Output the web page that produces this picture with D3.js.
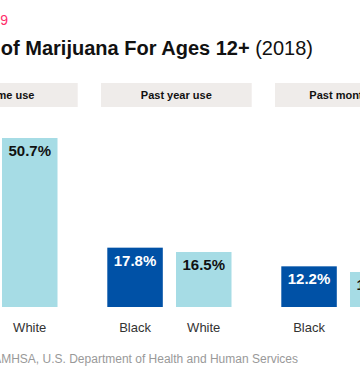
<!DOCTYPE html>
<html>
<head>
<meta charset="utf-8">
<script src="https://cdn.jsdelivr.net/npm/d3@7"></script>
<style>
  body { margin: 0; background: #fff; overflow: hidden; }
  svg { display: block; font-family: "Liberation Sans", Arial, sans-serif; }
</style>
</head>
<body>
<div id="chart"></div>
<script>
// data
var groups = ["Lifetime use", "Past year use", "Past month use"];
var races = ["Black", "White"];
var black = [39.9, 17.8, 12.2];
var white = [50.7, 16.5, 10.5];

var width = 360, height = 377;

var svg = d3.select("#chart").append("svg")
  .attr("width", width)
  .attr("height", height);

/* header text */
svg.append("text")
  .attr("x", 8)
  .attr("y", 25)
  .attr("text-anchor", "end")
  .style("font-size", "14px")
  .style("fill", "#ff2d6a")
  .text("December 2019");

var title = svg.append("text")
  .attr("x", 313)
  .attr("y", 55)
  .attr("text-anchor", "end")
  .style("font-size", "20px")
  .style("fill", "#111");
title.append("tspan").style("font-weight", "bold").text("Past Use of Marijuana For Ages 12+ ");
title.append("tspan").text("(2018)");

/* scales */
var x0 = d3.scaleBand()
  .domain(groups)
  .range([-73, -73 + 174 * groups.length]);

var x1 = d3.scaleBand()
  .domain(races)
  .range([6.3, 130.5])
  .paddingInner(0.192);

var y = d3.scaleLinear()
  .domain([0, 60])
  .range([307, 107]);

var color = d3.scaleOrdinal()
  .domain(races)
  .range(["#0051a6", "#a6dce5"]);

var rows = [];
groups.forEach(function(g, i) {
  rows.push({ group: g, race: "Black", value: black[i] });
  rows.push({ group: g, race: "White", value: white[i] });
});

/* group header boxes */
var heads = svg.append("g").selectAll("g")
  .data(groups).enter()
  .append("g")
  .attr("transform", d => `translate(${x0(d)}, 83)`);

heads.append("rect")
  .attr("width", 150.7)
  .attr("height", 24)
  .style("fill", "#efecea");

heads.append("text")
  .attr("x", 75.3)
  .attr("y", 16)
  .attr("text-anchor", "middle")
  .style("font-size", "11px")
  .style("font-weight", "bold")
  .style("fill", "#111")
  .text(d => d);

/* bars */
var bars = svg.append("g").selectAll("g")
  .data(rows).enter()
  .append("g")
  .attr("transform", d => `translate(${x0(d.group) + x1(d.race)}, 0)`);

bars.append("rect")
  .attr("y", d => y(d.value))
  .attr("width", x1.bandwidth())
  .attr("height", d => y(0) - y(d.value))
  .style("fill", d => color(d.race));

bars.append("text")
  .attr("x", x1.bandwidth() / 2)
  .attr("y", d => y(d.value) + 18)
  .attr("text-anchor", "middle")
  .style("font-size", "15px")
  .style("font-weight", "bold")
  .style("fill", d => d.race == "Black" ? "#fff" : "#111")
  .text(d => d.value.toFixed(1) + "%");

bars.append("text")
  .attr("x", x1.bandwidth() / 2)
  .attr("y", 332)
  .attr("text-anchor", "middle")
  .style("font-size", "13px")
  .style("fill", "#333")
  .text(d => d.race);

/* source */
svg.append("text")
  .attr("x", 298)
  .attr("y", 362.5)
  .attr("text-anchor", "end")
  .style("font-size", "12px")
  .style("fill", "#999")
  .text("Source: SAMHSA, U.S. Department of Health and Human Services");
</script>
</body>
</html>
